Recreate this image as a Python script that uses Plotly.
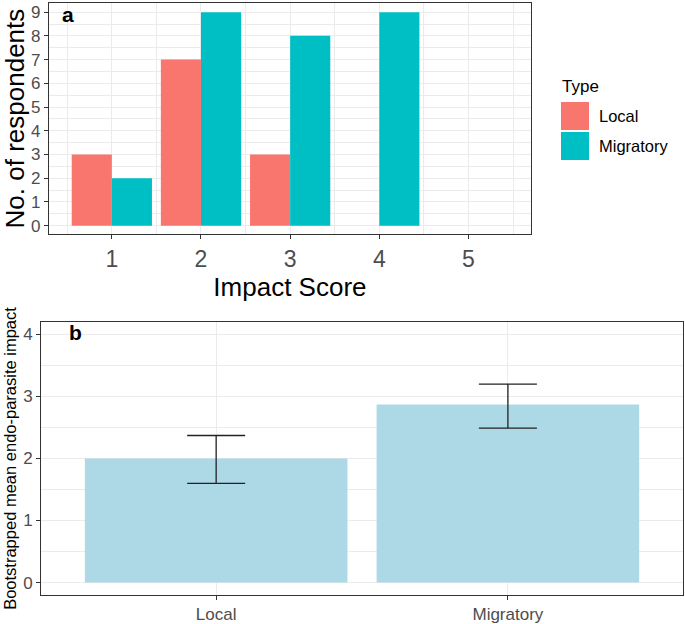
import plotly.graph_objects as go

# ---- data ----
impact_scores = [1, 2, 3, 4, 5]
local_counts = [3, 7, 3, 0, 0]
migratory_counts = [2, 9, 8, 9, 0]

boot_types = ["Local", "Migratory"]
boot_means = [2.0, 2.87]
boot_lower = [1.6, 2.49]
boot_upper = [2.37, 3.2]

legend_names = ["Local", "Migratory"]
legend_colors = ["#F8766D", "#00BFC4"]

FONT = "Arial, Liberation Sans, sans-serif"
GRID = "#ebebeb"
AXC = "#333333"
TICKC = "#4d4d4d"
W, H = 685, 624

fig = go.Figure()

fig.add_trace(go.Bar(x=impact_scores, y=local_counts, name="Local",
                     marker=dict(color=legend_colors[0], line=dict(width=0)),
                     showlegend=False, xaxis="x", yaxis="y"))
fig.add_trace(go.Bar(x=impact_scores, y=migratory_counts, name="Migratory",
                     marker=dict(color=legend_colors[1], line=dict(width=0)),
                     showlegend=False, xaxis="x", yaxis="y"))

err_plus = [u - m for u, m in zip(boot_upper, boot_means)]
err_minus = [m - l for m, l in zip(boot_means, boot_lower)]
fig.add_trace(go.Bar(x=boot_types, y=boot_means, showlegend=False,
                     marker=dict(color="#ADD8E6", line=dict(width=0)),
                     width=0.9,
                     error_y=dict(type="data", symmetric=False, array=err_plus,
                                  arrayminus=err_minus, color="#222222",
                                  thickness=1.3, width=29),
                     xaxis="x2", yaxis="y2"))

common_axis = dict(showline=True, linecolor=AXC, linewidth=1.2, mirror=True,
                   gridcolor=GRID, gridwidth=1, zeroline=False, automargin=False,
                   ticks="outside", ticklen=4, tickcolor=AXC)
minor = dict(tick0=0.5, dtick=1, showgrid=True, gridcolor=GRID, gridwidth=0.5, ticks="")

# custom legend (large keys like the reference)
shapes = []
annotations = [
    dict(text="Type", x=560 / W, y=1 - 87 / H, xref="paper", yref="paper",
         xanchor="left", yanchor="middle", showarrow=False,
         font=dict(size=17, family=FONT, color="black")),
]
for i, (nm, col) in enumerate(zip(legend_names, legend_colors)):
    top = 102 + i * 30
    shapes.append(dict(type="rect", xref="paper", yref="paper",
                       x0=561 / W, x1=589 / W, y0=1 - (top + 28) / H, y1=1 - top / H,
                       fillcolor=col, line=dict(width=0)))
    annotations.append(dict(text=nm, x=597 / W, y=1 - (top + 14) / H,
                            xref="paper", yref="paper", xanchor="left", yanchor="middle",
                            showarrow=False, font=dict(size=16.5, family=FONT, color="black")))

annotations += [
    dict(text="<b>a</b>", x=0.088, y=0.998, xref="paper", yref="paper",
         xanchor="left", yanchor="top", showarrow=False,
         font=dict(size=21, family=FONT, color="black")),
    dict(text="<b>b</b>", x=0.098, y=0.489, xref="paper", yref="paper",
         xanchor="left", yanchor="top", showarrow=False,
         font=dict(size=21, family=FONT, color="black")),
]

fig.update_layout(
    width=W, height=H,
    margin=dict(l=0, r=0, t=0, b=0, autoexpand=False),
    paper_bgcolor="white", plot_bgcolor="white",
    barmode="group", bargap=0.1, bargroupgap=0,
    font=dict(family=FONT),
    showlegend=False,
    xaxis=dict(domain=[0.0715, 0.775], anchor="y", range=[0.295, 5.7],
               tickvals=impact_scores, tickfont=dict(size=23, family=FONT, color=TICKC),
               minor=minor,
               title=dict(text="Impact Score", font=dict(size=26, family=FONT, color="black"), standoff=4),
               **common_axis),
    yaxis=dict(domain=[0.625, 0.995], anchor="x", range=[-0.35, 9.38],
               dtick=1, tickfont=dict(size=17, family=FONT, color=TICKC),
               minor=minor,
               title=dict(text="No. of respondents", font=dict(size=26, family=FONT, color="black"), standoff=2),
               **common_axis),
    xaxis2=dict(domain=[0.06, 0.997], anchor="y2", range=[-0.6, 1.6],
                tickfont=dict(size=17, family=FONT, color=TICKC),
                **common_axis),
    yaxis2=dict(domain=[0.0465, 0.484], anchor="x2", range=[-0.2, 4.2],
                dtick=1, tickfont=dict(size=17, family=FONT, color=TICKC),
                minor=minor,
                title=dict(text="Bootstrapped mean endo-parasite impact",
                           font=dict(size=16.5, family=FONT, color="black"), standoff=2),
                **common_axis),
    shapes=shapes,
    annotations=annotations,
)

fig.write_html("out.html", config={"displayModeBar": False},
               post_script="document.body.style.margin='0';document.body.style.overflow='hidden';")
